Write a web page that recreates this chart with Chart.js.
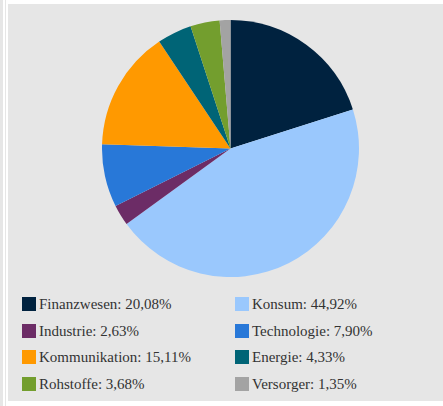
<!DOCTYPE html>
<html>
<head>
<meta charset="utf-8">
<script src="https://cdn.jsdelivr.net/npm/chart.js@4"></script>
<style>
  html, body { margin: 0; padding: 0; background: #fff; width: 443px; height: 406px; overflow: hidden; }
  .edge { position: absolute; top: 0; height: 406px; background: #e6e6e6; }
  #panel { position: absolute; left: 8px; top: 4px; width: 435px; height: 397px; background: #e6e6e6; }
  #pieWrap { position: absolute; left: 94px; top: 16px; width: 257px; height: 257px; }
  .item { position: absolute; height: 14px; font-family: "Liberation Serif", "DejaVu Serif", serif; font-size: 15px; color: #333; line-height: 14px; white-space: nowrap; }
  .item .box { position: absolute; left: 0; top: 0; width: 14px; height: 14px; }
  .item .lbl { position: absolute; left: 17px; top: 0; }
</style>
</head>
<body>
<div class="edge" style="left:0;width:3px"></div>
<div class="edge" style="left:5px;width:1px"></div>
<div id="panel">
  <div id="pieWrap"><canvas id="pieChart" width="257" height="257"></canvas></div>
  <div id="legend"></div>
</div>
<script>
// Sector weights (%)
const sectors = ['Finanzwesen', 'Konsum', 'Industrie', 'Technologie', 'Kommunikation', 'Energie', 'Rohstoffe', 'Versorger'];
const weights = [20.08, 44.92, 2.63, 7.90, 15.11, 4.33, 3.68, 1.35];
const colors = ['#00223f', '#9ac8fd', '#6c2c66', '#2878d8', '#ff9900', '#006476', '#739e2e', '#a3a3a3'];

const fmt = v => v.toFixed(2).replace('.', ',') + '%';

new Chart(document.getElementById('pieChart'), {
  type: 'pie',
  data: {
    labels: sectors,
    datasets: [{ data: weights, backgroundColor: colors, borderWidth: 0 }]
  },
  options: {
    responsive: false,
    animation: false,
    layout: { padding: 0 },
    plugins: { legend: { display: false }, tooltip: { enabled: false } }
  }
});

// Legend: two columns, built from the arrays
const legend = document.getElementById('legend');
sectors.forEach((s, i) => {
  const col = i % 2, row = Math.floor(i / 2);
  const el = document.createElement('div');
  el.className = 'item';
  el.style.left = (14 + col * 213) + 'px';
  el.style.top = (293 + row * 26.7) + 'px';
  el.innerHTML = `<span class="box" style="background:${colors[i]}"></span><span class="lbl">${s}: ${fmt(weights[i])}</span>`;
  legend.appendChild(el);
});
</script>
</body>
</html>
